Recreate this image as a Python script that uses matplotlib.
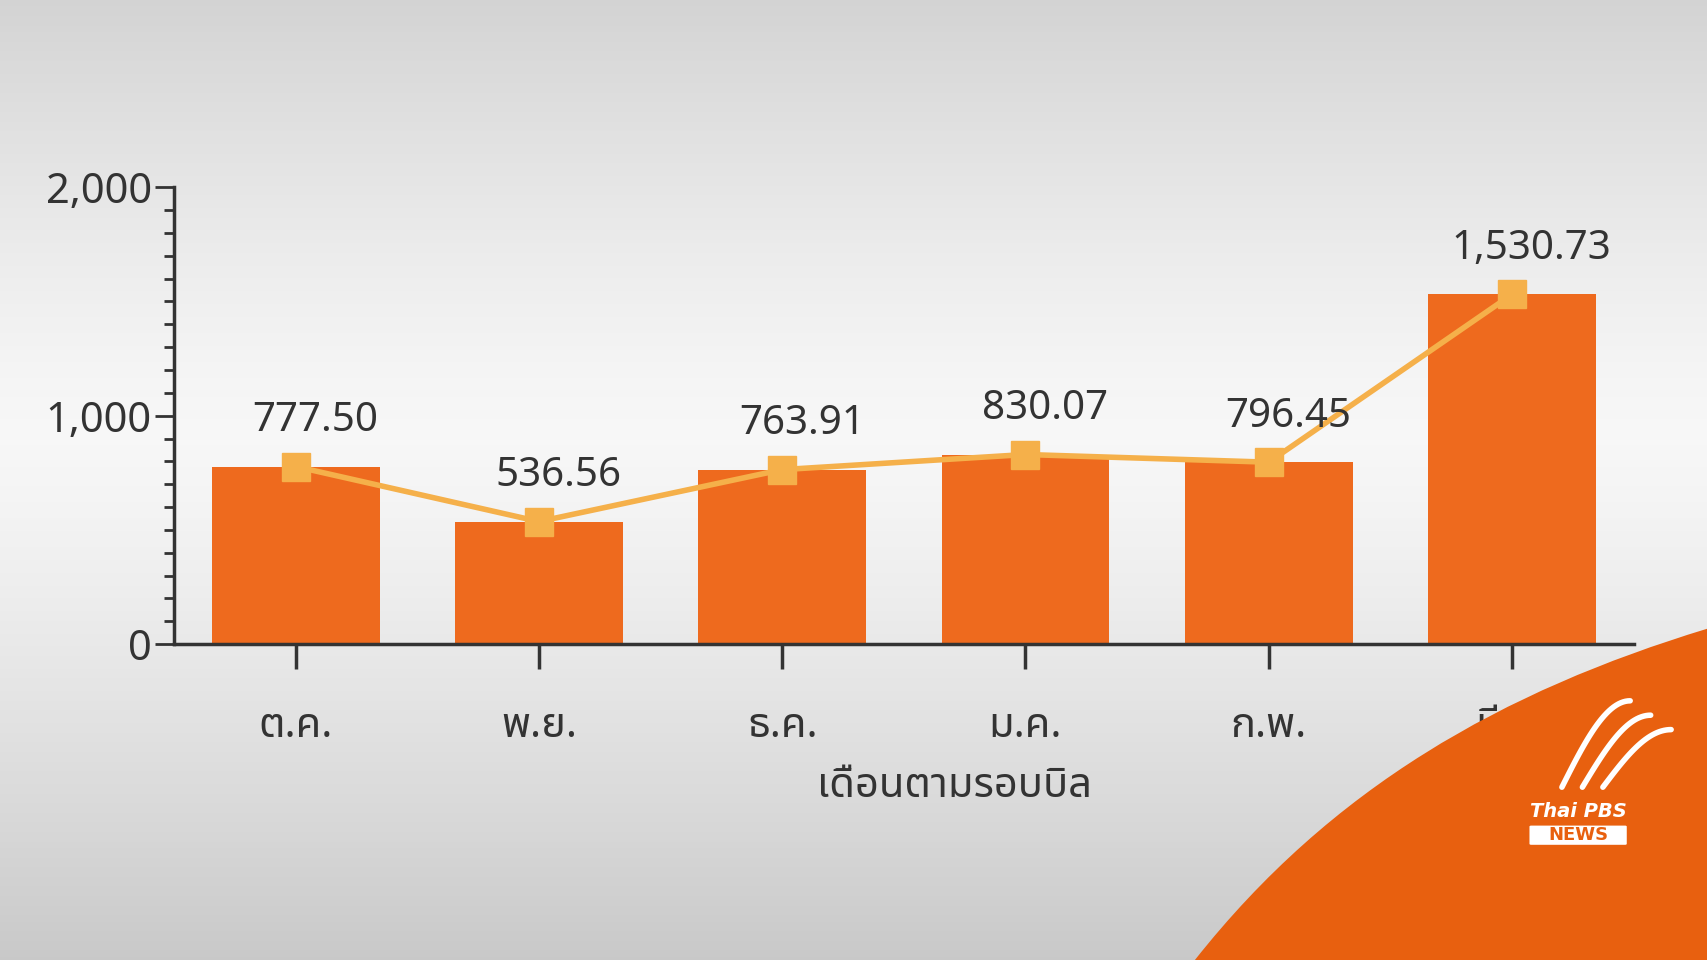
import matplotlib
matplotlib.use("Agg")
import matplotlib.pyplot as plt
import numpy as np
from matplotlib import font_manager
from matplotlib.ft2font import FT2Font
from matplotlib.patches import PathPatch, FancyBboxPatch
from matplotlib.path import Path
from matplotlib.ticker import MultipleLocator

months = ["ต.ค.", "พ.ย.", "ธ.ค.", "ม.ค.", "ก.พ.", "มี.ค."]
values = [777.50, 536.56, 763.91, 830.07, 796.45, 1530.73]
value_labels = ["777.50", "536.56", "763.91", "830.07", "796.45", "1,530.73"]
x_title = "เดือนตามรอบบิล"


def find_thai_family():
    # look for any installed font that has Thai glyphs
    found = []
    for f in font_manager.fontManager.ttflist:
        try:
            ft = FT2Font(f.fname)
            if ft.get_char_index(0x0E01) and ft.get_char_index(0x0E35):
                found.append(f.name)
        except Exception:
            pass
    for pref in ["Noto Sans Thai", "Noto Sans Thai UI", "Sarabun", "Kanit"]:
        if pref in found:
            return [pref]
    return found[:1]


families = find_thai_family() + ["Noto Sans", "DejaVu Sans"]
plt.rcParams["font.family"] = families
TEXT = "#333333"
BAR = "#EE6A1E"
LINE = "#F5B04A"

fig = plt.figure(figsize=(17.07, 9.6), dpi=100)

# background gradient
bg = fig.add_axes([0, 0, 1, 1], zorder=-10)
t = np.linspace(0, 1, 300)
g = 0.97 - 0.18 * np.abs(t - 0.45) ** 1.3 * 2.2
g = np.clip(g, 0.72, 0.99)
bg.imshow(np.tile(g[:, None], (1, 10))[:, :, None].repeat(3, axis=2),
          aspect="auto", extent=[0, 1, 0, 1])
bg.set_xlim(0, 1)
bg.set_ylim(0, 1)
bg.axis("off")

ax = fig.add_axes([0.102, 0.329, 0.855, 0.476])
ax.patch.set_alpha(0)
x = np.arange(len(months))
ax.bar(x, values, width=0.69, color=BAR, zorder=2)
ax.plot(x, values, color=LINE, lw=4, marker="s", ms=20, zorder=3)
for xi, v, lab in zip(x, values, value_labels):
    ax.text(xi + 0.08, v + 110, lab, ha="center", va="bottom",
            fontsize=29, color=TEXT, zorder=4)

ax.set_xlim(-0.5, 5.5)
ax.set_ylim(0, 2000)
ax.set_yticks([0, 1000, 2000])
ax.set_yticklabels(["0", "1,000", "2,000"])
ax.yaxis.set_minor_locator(MultipleLocator(100))
ax.tick_params(axis="y", which="major", length=14, width=2, labelsize=30,
               colors=TEXT, pad=2)
ax.tick_params(axis="y", which="minor", length=7, width=2, colors=TEXT)
ax.set_xticks(x)
ax.set_xticklabels(months)
ax.tick_params(axis="x", length=18, width=2.5, labelsize=30, colors=TEXT, pad=26)
for s in ["top", "right"]:
    ax.spines[s].set_visible(False)
for s in ["left", "bottom"]:
    ax.spines[s].set_linewidth(2.5)
    ax.spines[s].set_color("#333333")
ax.set_xlabel(x_title, fontsize=30, color=TEXT, labelpad=8)
ax.xaxis.set_label_coords(0.535, -0.265)

# orange corner with logo
ov = fig.add_axes([0, 0, 1, 1], zorder=10)
ov.set_xlim(0, 1)
ov.set_ylim(0, 1)
ov.axis("off")
verts = [(0.70, 0.0), (0.78, 0.18), (0.88, 0.28), (1.0, 0.345),
         (1.0, 0.0), (0.70, 0.0)]
codes = [Path.MOVETO, Path.CURVE4, Path.CURVE4, Path.CURVE4,
         Path.LINETO, Path.CLOSEPOLY]
ov.add_patch(PathPatch(Path(verts, codes), facecolor="#E8600F", edgecolor="none"))
ov.add_patch(FancyBboxPatch((0.897, 0.121), 0.055, 0.018,
                            boxstyle="round,pad=0.001", fc="white", ec="none"))
ov.text(0.9245, 0.130, "NEWS", color="#E8600F", fontsize=13,
        fontweight="bold", ha="center", va="center", family="DejaVu Sans")
ov.text(0.9245, 0.155, "Thai PBS", color="white", fontsize=14,
        fontweight="bold", style="italic", ha="center", va="center",
        family="DejaVu Sans")
# feather-like strokes of the logo
for dx, top in [(0.0, 0.27), (0.012, 0.255), (0.024, 0.24)]:
    s = np.linspace(0, 1, 30)
    xs = 0.915 + dx + 0.04 * s
    ys = 0.18 + (top - 0.18) * np.sin(s * np.pi / 2)
    ov.plot(xs, ys, color="white", lw=4, solid_capstyle="round")

fig.savefig("out.png", dpi=100)
